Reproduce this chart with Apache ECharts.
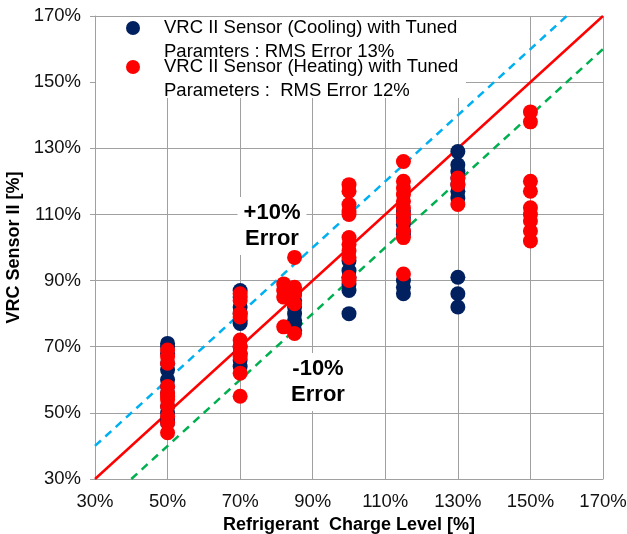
<!DOCTYPE html>
<html>
<head>
<meta charset="utf-8">
<script src="https://cdn.jsdelivr.net/npm/echarts@6/dist/echarts.min.js"></script>
<style>
  html, body { margin: 0; padding: 0; background: #fff; }
  #chart { width: 627px; height: 534px; }
</style>
</head>
<body>
<div id="chart"></div>
<script>
// charge levels (x) and sensor readings (y), both in %
const coolingX = [50, 70, 85, 100, 115, 130];
const coolingY = [
  [71, 70, 68, 65, 63, 60, 58, 56, 52, 50, 48, 47],
  [87, 85, 82, 80, 78, 77, 70, 68, 66, 64],
  [86, 84, 82, 80, 78, 77, 75],
  [96, 93, 91, 89, 87, 80],
  [111, 109, 107, 105, 104, 90, 88, 86],
  [129, 125, 123, 121, 119, 117, 115, 91, 86, 82]
];
const heatingX = [50, 70, 82, 85, 100, 115, 130, 150];
const heatingY = [
  [69, 67, 65, 58, 56, 55, 54, 52, 49, 47, 44],
  [86, 84, 80, 79, 72, 70, 68, 67, 62, 55],
  [89, 87, 85, 76],
  [97, 88, 86, 83, 74],
  [119, 117, 113, 111, 110, 103, 101, 99, 97, 91, 90],
  [126, 120, 118, 116, 114, 112, 110, 108, 105, 103, 92],
  [121, 119, 113],
  [141, 138, 120, 117, 112, 110, 108, 105, 102]
];
const perfectLine = [[30, 30], [170, 170]];
const plus10Line = [[30, 40], [160, 170]];
const minus10Line = [[40, 30], [170, 160]];
const axisMin = 30;
const axisMax = 170;
const axisStep = 20;

const coolingName = 'VRC II Sensor (Cooling) with Tuned\nParamters : RMS Error 13%';
const heatingName = 'VRC II Sensor (Heating) with Tuned\nParameters :  RMS Error 12%';

const toPairs = (xs, ys) => {
  const out = [];
  xs.forEach((x, i) => ys[i].forEach(y => out.push([x, y])));
  return out;
};

const font = 'Liberation Sans';
const gridColor = '#A0A0A0';

const chart = echarts.init(document.getElementById('chart'));

const axisCommon = {
  type: 'value',
  min: axisMin,
  max: axisMax,
  interval: axisStep,
  nameLocation: 'middle',
  nameTextStyle: { fontFamily: font, fontSize: 18, fontWeight: 'bold', color: '#000' },
  axisLine: { show: true, lineStyle: { color: gridColor, width: 1 } },
  splitLine: { show: true, lineStyle: { color: gridColor, width: 1 } },
  axisLabel: { fontFamily: font, fontSize: 18.5, color: '#111', formatter: '{value}%' }
};

chart.setOption({
  animation: false,
  grid: { left: 95, right: 24, top: 16, bottom: 55, outerBoundsMode: 'none' },
  xAxis: Object.assign({}, axisCommon, {
    name: 'Refrigerant  Charge Level [%]',
    nameGap: 30,
    axisTick: { show: false },
    axisLabel: Object.assign({}, axisCommon.axisLabel, { margin: 13 })
  }),
  yAxis: Object.assign({}, axisCommon, {
    name: 'VRC Sensor II [%]',
    nameGap: 69,
    axisTick: { show: true, length: 5, lineStyle: { color: gridColor } },
    axisLabel: Object.assign({}, axisCommon.axisLabel, { margin: 14 })
  }),
  legend: {
    orient: 'vertical',
    left: 126,
    top: -8,
    padding: 0,
    itemGap: -33,
    itemWidth: 52,
    itemHeight: 14,
    icon: 'circle',
    selectedMode: false,
    // blank first line so the marker sits beside the first text line
    formatter: name => '\n' + name,
    textStyle: {
      fontFamily: font,
      fontSize: 18.5,
      color: '#000',
      lineHeight: 24
    },
    data: [coolingName, heatingName]
  },
  graphic: [
    {
      type: 'rect',
      z: 1,
      shape: { x: 96, y: 17, width: 370, height: 81 },
      style: { fill: '#fff' }
    },
    {
      type: 'text',
      z: 1,
      x: 272,
      y: 226,
      style: {
        text: '+10%\nError',
        font: 'bold 22px "Liberation Sans"',
        lineHeight: 26,
        align: 'center',
        verticalAlign: 'middle',
        fill: '#000',
        backgroundColor: '#fff',
        padding: [3, 6]
      }
    },
    {
      type: 'text',
      z: 1,
      x: 318,
      y: 382,
      style: {
        text: '-10%\nError',
        font: 'bold 22px "Liberation Sans"',
        lineHeight: 26,
        align: 'center',
        verticalAlign: 'middle',
        fill: '#000',
        backgroundColor: '#fff',
        padding: [3, 6]
      }
    }
  ],
  series: [
    {
      type: 'line',
      data: plus10Line,
      symbol: 'none',
      silent: true,
      z: 1,
      lineStyle: { color: '#00B0F0', width: 2.5, type: [8, 6] }
    },
    {
      type: 'line',
      data: minus10Line,
      symbol: 'none',
      silent: true,
      z: 1,
      lineStyle: { color: '#00B050', width: 2.5, type: [8, 6] }
    },
    {
      type: 'line',
      data: perfectLine,
      symbol: 'none',
      silent: true,
      z: 1,
      lineStyle: { color: '#FF0000', width: 2.5 }
    },
    {
      name: coolingName,
      type: 'scatter',
      symbolSize: 15,
      itemStyle: { color: '#002060', opacity: 1 },
      data: toPairs(coolingX, coolingY)
    },
    {
      name: heatingName,
      type: 'scatter',
      symbolSize: 15,
      itemStyle: { color: '#FF0000', opacity: 1 },
      data: toPairs(heatingX, heatingY)
    }
  ]
});
</script>
</body>
</html>
